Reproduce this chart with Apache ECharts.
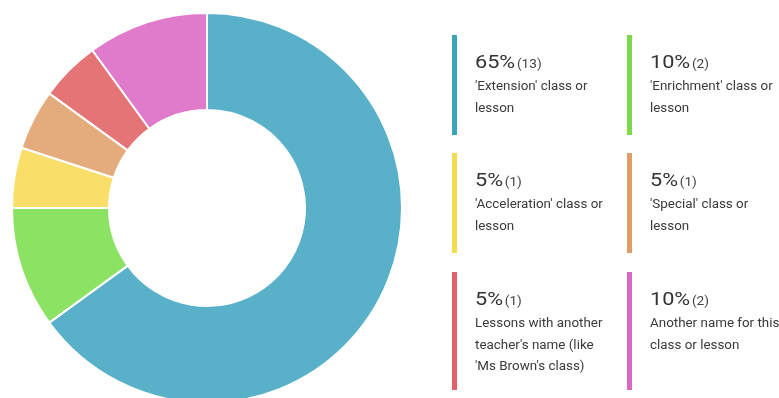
<!DOCTYPE html>
<html>
<head>
<meta charset="utf-8">
<style>
  html, body { margin: 0; padding: 0; background: #ffffff; }
  #chart { width: 779px; height: 398px; }
</style>
<script src="https://cdn.jsdelivr.net/npm/echarts@6/dist/echarts.min.js"></script>
</head>
<body>
<div id="chart"></div>
<script>
// Survey answers: what the class or lesson is called
const categories = [
  "'Extension' class or\nlesson",
  "'Enrichment' class or\nlesson",
  "'Acceleration' class or\nlesson",
  "'Special' class or\nlesson",
  "Lessons with another\nteacher's name (like\n'Ms Brown's class)",
  "Another name for this\nclass or lesson"
];
const counts = [13, 2, 1, 1, 1, 2];
const percents = [65, 10, 5, 5, 5, 10];

// Slice fills and the matching (slightly deeper) legend bar colours
const sliceColors = ['#58b1c8', '#8ce262', '#fade6a', '#e4ab7c', '#e57476', '#e07acb'];
const barColors = ['#3ba5bb', '#7dd84c', '#f2dc52', '#e09c66', '#e0636c', '#d868c2'];

// Legend grid layout: two columns, three rows
const colX = [452, 627];
const rowTop = [35, 153, 272];
const rowBarH = [100, 100, 118];

const chart = echarts.init(document.getElementById('chart'), null, { renderer: 'canvas' });

const legendItems = [];
categories.forEach((name, i) => {
  const col = i % 2;
  const row = Math.floor(i / 2);
  const x = colX[col];
  const top = rowTop[row];
  legendItems.push({
    type: 'rect',
    shape: { x: x, y: top, width: 5, height: rowBarH[row] },
    style: { fill: barColors[i] },
    silent: true
  });
  legendItems.push({
    type: 'text',
    x: x + 23,
    y: top + 28,
    scaleX: 1.14,
    style: {
      text: '{p|' + percents[i] + '%}{c|(' + counts[i] + ')}',
      verticalAlign: 'middle',
      rich: {
        p: { fontFamily: 'Roboto', fontSize: 19, fill: '#333333' },
        c: { fontFamily: 'Roboto', fontSize: 12, fill: '#444444', padding: [3, 0, 0, 1.5] }
      }
    },
    silent: true
  });
  legendItems.push({
    type: 'text',
    x: x + 23,
    y: top + 52 - 10.75,
    style: {
      text: name,
      fontFamily: 'Roboto',
      fontSize: 13.4,
      lineHeight: 21.5,
      fill: '#3a3a3a',
      verticalAlign: 'top'
    },
    silent: true
  });
});

chart.setOption({
  animation: false,
  series: [{
    type: 'pie',
    center: [207, 208],
    radius: [98, 195],
    startAngle: 90,
    clockwise: true,
    silent: true,
    label: { show: false },
    labelLine: { show: false },
    itemStyle: { borderColor: '#ffffff', borderWidth: 2 },
    data: counts.map((v, i) => ({
      value: v,
      name: categories[i],
      itemStyle: { color: sliceColors[i] }
    }))
  }],
  graphic: legendItems
});
</script>
</body>
</html>
